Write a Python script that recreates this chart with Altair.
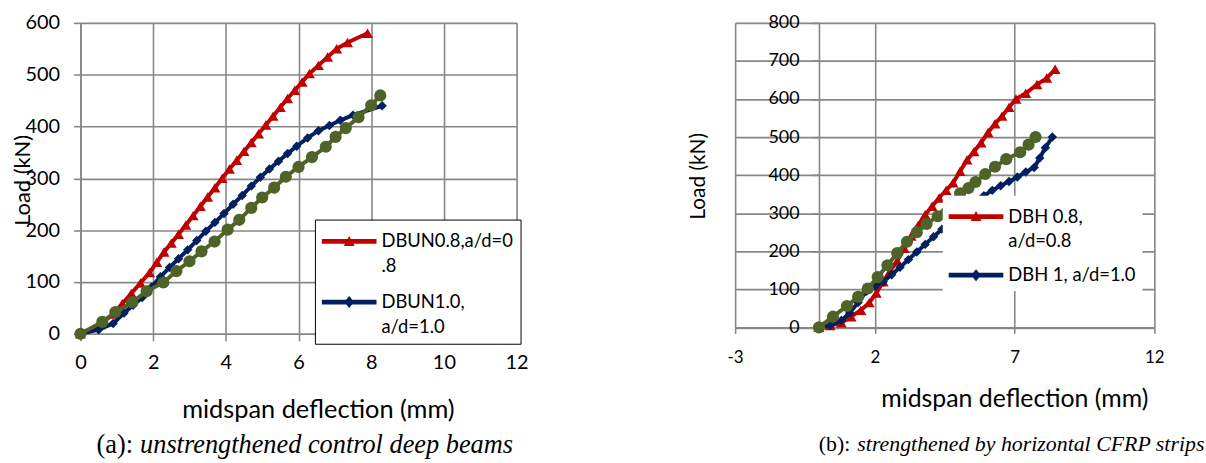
import altair as alt
import pandas as pd

FONT = "Lato"
SERIF = "Liberation Serif"
GRID = "#878787"
RED, BLUE, GREEN = "#C00000", "#002060", "#4F6228"

# ---------------- panel (a): unstrengthened ----------------
a_names = ["DBUN0.8,a/d=0.8", "DBUN1.0, a/d=1.0", "Series3"]
a_red_x = [0, 0.55, 0.9, 1.15, 1.4, 1.65, 1.9, 2.1, 2.3, 2.5, 2.7, 2.9, 3.1, 3.3, 3.5, 3.7, 3.9, 4.1, 4.3, 4.5,
           4.7, 4.9, 5.1, 5.3, 5.5, 5.7, 5.9, 6.1, 6.3, 6.55, 6.8, 7.05, 7.35, 7.9]
a_red_y = [0, 18, 38, 58, 78, 98, 118, 138, 158, 175, 192, 210, 228, 246, 264, 282, 300, 318, 335, 352,
           369, 386, 403, 420, 437, 454, 470, 486, 502, 518, 534, 550, 562, 580]
a_blue_x = [0, 0.5, 0.9, 1.2, 1.45, 1.7, 1.95, 2.2, 2.45, 2.7, 2.95, 3.2, 3.45, 3.7, 3.95, 4.2, 4.45, 4.7, 4.95,
            5.2, 5.45, 5.7, 5.95, 6.25, 6.55, 6.85, 7.15, 7.5, 8.3]
a_blue_y = [0, 8, 20, 40, 55, 70, 90, 110, 128, 145, 162, 180, 198, 215, 232, 250, 267, 285, 302,
            318, 333, 348, 362, 378, 392, 402, 412, 422, 440]
a_green_x = [0, 0.6, 0.96, 1.42, 1.82, 2.28, 2.64, 3.0, 3.33, 3.69, 4.05, 4.37, 4.7, 5.0, 5.33, 5.65, 6.0,
             6.37, 6.75, 7.02, 7.3, 7.65, 8.0, 8.25]
a_green_y = [0, 23, 42, 61, 82, 99, 121, 140, 159, 178, 201, 220, 243, 263, 282, 303, 322,
             341, 361, 380, 397, 418, 441, 460]
a_xticks = [0, 2, 4, 6, 8, 10, 12]
a_yticks = [0, 100, 200, 300, 400, 500, 600]
a_cap_lead = "(a):"
a_cap_rest = "unstrengthened control deep beams"

# ---------------- panel (b): horizontal CFRP ----------------
b_names = ["DBH 0.8, a/d=0.8", "DBH 1, a/d=1.0", "Series3"]
b_red_x = [0, 0.4, 0.8, 1.15, 1.5, 1.8, 2.05, 2.3, 2.55, 2.8, 3.05, 3.3, 3.55, 3.8, 4.05, 4.3, 4.55, 4.8, 5.05,
           5.3, 5.55, 5.8, 6.05, 6.3, 6.55, 6.8, 7.05, 7.4, 7.8, 8.15, 8.45]
b_red_y = [0, 5, 12, 28, 45, 65, 90, 120, 148, 175, 208, 240, 268, 296, 318, 340, 360, 380, 410,
           440, 462, 485, 512, 535, 555, 578, 600, 615, 638, 655, 678]
b_blue_x = [0, 0.4, 0.8, 1.1, 1.4, 1.7, 2.0, 2.3, 2.6, 2.9, 3.2, 3.5, 3.8, 4.1, 4.4, 4.7, 5.0, 5.3, 5.6, 5.9,
            6.2, 6.5, 6.8, 7.1, 7.4, 7.7, 7.9, 8.1, 8.35]
b_blue_y = [0, 5, 18, 38, 65, 95, 108, 120, 138, 158, 178, 198, 218, 238, 258, 278, 298, 315, 332, 346,
            360, 372, 383, 395, 408, 420, 445, 472, 500]
b_green_x = [0, 0.5, 1.0, 1.4, 1.75, 2.1, 2.45, 2.8, 3.15, 3.5, 3.85, 4.25, 4.65, 5.05, 5.35, 5.6, 5.95,
             6.3, 6.7, 7.2, 7.5, 7.75]
b_green_y = [0, 28, 56, 80, 102, 132, 163, 195, 225, 250, 272, 292, 325, 352, 366, 382, 403,
             422, 442, 460, 480, 500]
b_xticks = [-3, 2, 7, 12]
b_yticks = [0, 100, 200, 300, 400, 500, 600, 700, 800]
b_cap_lead = "(b):"
b_cap_rest = "strengthened by horizontal CFRP strips"

COLORS = [RED, BLUE, GREEN]
SHAPES = ["triangle-up", "diamond", "circle"]
SIZES = [120, 90, 150]
# legend symbols: a 55px line with its marker; symbol box is 30px (scale 15px per unit)
PATH_TRI = "M-1,-0.16H2.667V0.16H-1Z M0.47,0.3L0.833,-0.37L1.2,0.3Z"
PATH_DIA = "M-1,-0.16H2.667V0.16H-1Z M0.5,0L0.833,-0.4L1.167,0L0.833,0.4Z"


def build_df(names, xs, ys):
    rows = []
    for name, xx, yy in zip(names, xs, ys):
        for i, (a, b) in enumerate(zip(xx, yy)):
            rows.append({"series": name, "x": a, "load": b, "i": i})
    return pd.DataFrame(rows)


def axis_common(size):
    return dict(grid=True, gridColor=GRID, gridWidth=1.6, domainColor=GRID, domainWidth=1.6,
                tickColor=GRID, tickWidth=1.6, labelFont=FONT, labelFontSize=size, labelColor="black",
                labelFlush=False, labelOverlap=False, titleFont=FONT, titleFontWeight="normal",
                titleColor="black", titleAlign="center", titleBaseline="middle")


def panel(df, names, w, h, xdom, ydom, xaxis, yaxis, legend, paths, caps):
    xenc = alt.X("x:Q", scale=alt.Scale(domain=xdom, nice=False, zero=False), axis=alt.Axis(**xaxis))
    yenc = alt.Y("load:Q", scale=alt.Scale(domain=ydom, nice=False), axis=alt.Axis(**yaxis))
    layers = []
    for name, c, s, sz in zip(names, COLORS, SHAPES, SIZES):
        base = alt.Chart(df).transform_filter(alt.datum.series == name)
        layers.append(base.mark_line(color=c, strokeWidth=4).encode(x=xenc, y=yenc, order="i:Q"))
        layers.append(base.mark_point(filled=True, opacity=1, color=c, shape=s, size=sz)
                      .encode(x=xenc, y=yenc))
    leg = alt.Legend(**legend)
    layers.append(
        alt.Chart(df).transform_filter("false").mark_point(filled=True, opacity=1, size=900).encode(
            x=xenc, y=yenc,
            color=alt.Color("series:N", scale=alt.Scale(domain=names[:2], range=COLORS[:2]), legend=leg),
            shape=alt.Shape("series:N", scale=alt.Scale(domain=names[:2], range=paths), legend=leg),
        )
    )
    lead, rest, cx, cy, cs = caps
    layers.append(alt.Chart(pd.DataFrame({"t": [lead]})).mark_text(
        font=SERIF, fontSize=cs, align="right", baseline="middle", color="black"
    ).encode(x=alt.value(cx), y=alt.value(cy), text="t:N"))
    layers.append(alt.Chart(pd.DataFrame({"t": [rest]})).mark_text(
        font=SERIF, fontSize=cs, fontStyle="italic", align="left", baseline="middle", color="black"
    ).encode(x=alt.value(cx + 7), y=alt.value(cy), text="t:N"))
    return alt.layer(*layers).properties(width=w, height=h)


dfa = build_df(a_names, [a_red_x, a_blue_x, a_green_x], [a_red_y, a_blue_y, a_green_y])
dfb = build_df(b_names, [b_red_x, b_blue_x, b_green_x], [b_red_y, b_blue_y, b_green_y])

a_x = dict(axis_common(20), values=a_xticks, tickSize=7, labelPadding=12,
           title="midspan deflection (mm)", titleFontSize=25.5, titleX=239, titleY=76)
a_y = dict(axis_common(20), values=a_yticks, tickSize=7, labelPadding=14,
           title="Load (kN)", titleFontSize=22, titleX=-58, titleY=158)
a_leg = dict(title=None, orient="none", legendX=236, legendY=198, direction="vertical",
             fillColor="white", strokeColor="black", padding=7, symbolSize=900, symbolStrokeWidth=0,
             labelFont=FONT, labelFontSize=18.5, labelColor="black", labelOffset=30, rowPadding=11,
             labelLimit=400,
             labelExpr="datum.label == 'DBUN0.8,a/d=0.8' ? ['DBUN0.8,a/d=0', '.8'] : ['DBUN1.0,', 'a/d=1.0']")

b_x = dict(axis_common(17), values=b_xticks, tickSize=6, labelPadding=16, labelExpr="datum.value + ''",
           title="midspan deflection (mm)", titleFontSize=25, titleX=281, titleY=72)
b_y = dict(axis_common(18), values=b_yticks, tickSize=7, labelPadding=13, offset=-84.4,
           title="Load (kN)", titleFontSize=21, titleX=-121, titleY=154)
b_leg = dict(title=None, orient="none", legendX=209, legendY=174, direction="vertical",
             fillColor="white", padding=6, symbolSize=900, symbolStrokeWidth=0,
             labelFont=FONT, labelFontSize=18.5, labelColor="black", labelOffset=30, rowPadding=9,
             labelLimit=400,
             labelExpr="datum.label == 'DBH 0.8, a/d=0.8' ? ['DBH 0.8,', 'a/d=0.8'] : datum.label")

left = panel(dfa, a_names, 439, 313, [0, 12], [0, 600], a_x, a_y, a_leg,
             [PATH_TRI, PATH_DIA], (a_cap_lead, a_cap_rest, 53, 425, 26.5))
right = panel(dfb, b_names, 422, 306.5, [-3, 12], [0, 800], b_x, b_y, b_leg,
              [PATH_TRI, PATH_DIA], (b_cap_lead, b_cap_rest, 116, 424, 22))

chart = alt.hconcat(left, right, spacing=158).resolve_scale(
    x="independent", y="independent", color="independent", shape="independent"
).properties(
    padding={"left": 11, "top": 10.5, "right": 0, "bottom": 0}, background="white"
).configure_view(stroke="transparent").configure(style={"guide-label": {"lineHeight": 25}})

chart.save("out.html", embed_options={"renderer": "svg", "actions": False})
